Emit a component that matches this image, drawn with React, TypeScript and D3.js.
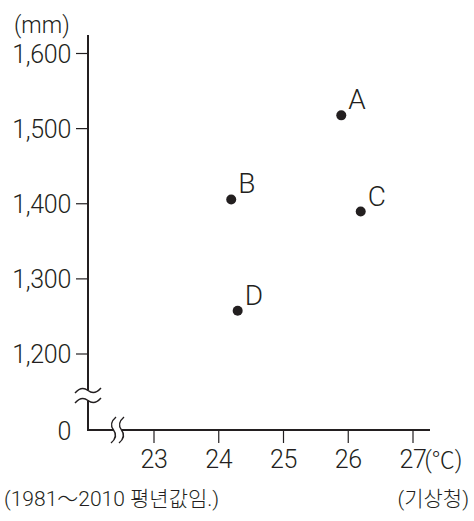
import { useEffect, useRef } from 'react';
import * as d3 from 'd3';

type Station = { name: string; temperature: number; precipitation: number };

const STATION_NAMES = ['A', 'B', 'C', 'D'];
const TEMPERATURES = [25.9, 24.2, 26.2, 24.3];
const PRECIPITATION = [1517, 1405, 1389, 1257];
const X_TICKS = [23, 24, 25, 26, 27];
const Y_TICKS = [0, 1200, 1300, 1400, 1500, 1600];
const Y_UNIT = '(mm)';
const X_UNIT = '(℃)';
const PERIOD_NOTE = '(1981～2010 평년값임.)';
const SOURCE_NOTE = '(기상청)';

const FONT = 'Roboto, "Liberation Sans", "Noto Sans CJK KR", sans-serif';
const INK = '#231f20';

export default function App() {
  const svgRef = useRef<SVGSVGElement | null>(null);

  useEffect(() => {
    const svgElement = svgRef.current;
    if (!svgElement) {
      return;
    }

    const width = 474;
    const height = 521;
    const origin = { x: 88, y: 430 };
    const axisTop = 35;
    const axisRight = 430;

    const svg = d3.select(svgElement);
    svg.attr('viewBox', `0 0 ${width} ${height}`);
    svg.selectAll('*').remove();

    const stations: Station[] = STATION_NAMES.map((name, i) => ({
      name,
      temperature: TEMPERATURES[i]!,
      precipitation: PRECIPITATION[i]!,
    }));

    const x = d3.scaleLinear().domain([23, 27]).range([153.5, 412.5]);
    // broken axis: 0 sits below the 1,200 tick with a gap in between
    const y = d3.scaleLinear().domain([0, 1200, 1600]).range([origin.y, 353.5, 53]);

    const root = svg.append('g').attr('font-family', FONT).attr('font-weight', 300).attr('fill', INK);

    // axis lines
    root
      .append('path')
      .attr('d', `M${origin.x},${axisTop} V${origin.y} H${axisRight}`)
      .attr('fill', 'none')
      .attr('stroke', INK)
      .attr('stroke-width', 2);

    const yAxis = d3
      .axisLeft(y)
      .tickValues(Y_TICKS)
      .tickSize(12)
      .tickSizeOuter(0)
      .tickPadding(5)
      .tickFormat((v: d3.NumberValue) => d3.format(',')(v));
    const yGroup = root.append('g').attr('transform', `translate(${origin.x},0)`).call(yAxis);
    yGroup.select('.domain').remove();
    yGroup.attr('font-family', FONT).attr('font-size', 25).attr('letter-spacing', -0.3);
    yGroup.selectAll('line').attr('stroke', INK).attr('stroke-width', 1.2);
    yGroup.selectAll('text').attr('fill', INK).attr('dy', '0.36em');
    yGroup
      .selectAll<SVGGElement, number>('.tick')
      .filter((d) => d === 0)
      .select('line')
      .remove();

    const xAxis = d3
      .axisBottom(x)
      .tickValues(X_TICKS)
      .tickSize(13)
      .tickSizeOuter(0)
      .tickFormat((v: d3.NumberValue) => d3.format('d')(v));
    const xGroup = root.append('g').attr('transform', `translate(0,${origin.y})`).call(xAxis);
    xGroup.select('.domain').remove();
    xGroup.attr('font-family', FONT).attr('font-size', 25).attr('letter-spacing', -0.3);
    xGroup.selectAll('line').attr('stroke', INK).attr('stroke-width', 1.2);
    xGroup.selectAll('text').attr('fill', INK).attr('y', 38).attr('dy', null);

    // unit labels
    root
      .append('text')
      .attr('x', x(27) + 12)
      .attr('y', origin.y + 38)
      .attr('font-size', 23)
      .text(X_UNIT);
    root.append('text').attr('x', 14).attr('y', 33).attr('font-size', 23).text(Y_UNIT);

    // axis breaks
    const breakStroke = (sel: d3.Selection<SVGPathElement, unknown, null, undefined>) =>
      sel.attr('fill', 'none').attr('stroke', INK).attr('stroke-width', 1.4);

    const yBreakTop = 390.5;
    const yBreakBottom = 400.5;
    root
      .append('rect')
      .attr('x', origin.x - 3)
      .attr('y', yBreakTop)
      .attr('width', 6)
      .attr('height', yBreakBottom - yBreakTop)
      .attr('fill', '#fff');
    [yBreakTop, yBreakBottom].forEach((cy) => {
      breakStroke(
        root
          .append('path')
          .attr('transform', `translate(${origin.x},${cy})`)
          .attr('d', 'M-13,2.5 Q-6.5,-5 0,0 T13,-2.5'),
      );
    });

    const xBreakLeft = 113.5;
    const xBreakRight = 121.5;
    root
      .append('rect')
      .attr('x', xBreakLeft)
      .attr('y', origin.y - 3)
      .attr('width', xBreakRight - xBreakLeft)
      .attr('height', 6)
      .attr('fill', '#fff');
    [xBreakLeft, xBreakRight].forEach((cx) => {
      breakStroke(
        root
          .append('path')
          .attr('transform', `translate(${cx},${origin.y})`)
          .attr('d', 'M2.5,-13 Q-5,-6.5 0,0 T-2.5,13'),
      );
    });

    // points
    const points = root
      .append('g')
      .selectAll('g.station')
      .data(stations)
      .join('g')
      .attr('class', 'station')
      .attr('transform', (d) => `translate(${x(d.temperature)},${y(d.precipitation)})`);
    points.append('circle').attr('r', 5).attr('fill', INK);
    points
      .append('text')
      .attr('x', 7)
      .attr('y', -6)
      .attr('font-size', 28)
      .text((d) => d.name);

    // footnotes
    root
      .append('text')
      .attr('x', 4)
      .attr('y', 506)
      .attr('font-size', 21)
      .text(PERIOD_NOTE);
    root
      .append('text')
      .attr('x', 469)
      .attr('y', 506)
      .attr('font-size', 21)
      .attr('text-anchor', 'end')
      .text(SOURCE_NOTE);
  }, []);

  return (
    <svg
      ref={svgRef}
      width={474}
      height={521}
      style={{ position: 'absolute', left: 0, top: 0, background: '#fff' }}
    />
  );
}
